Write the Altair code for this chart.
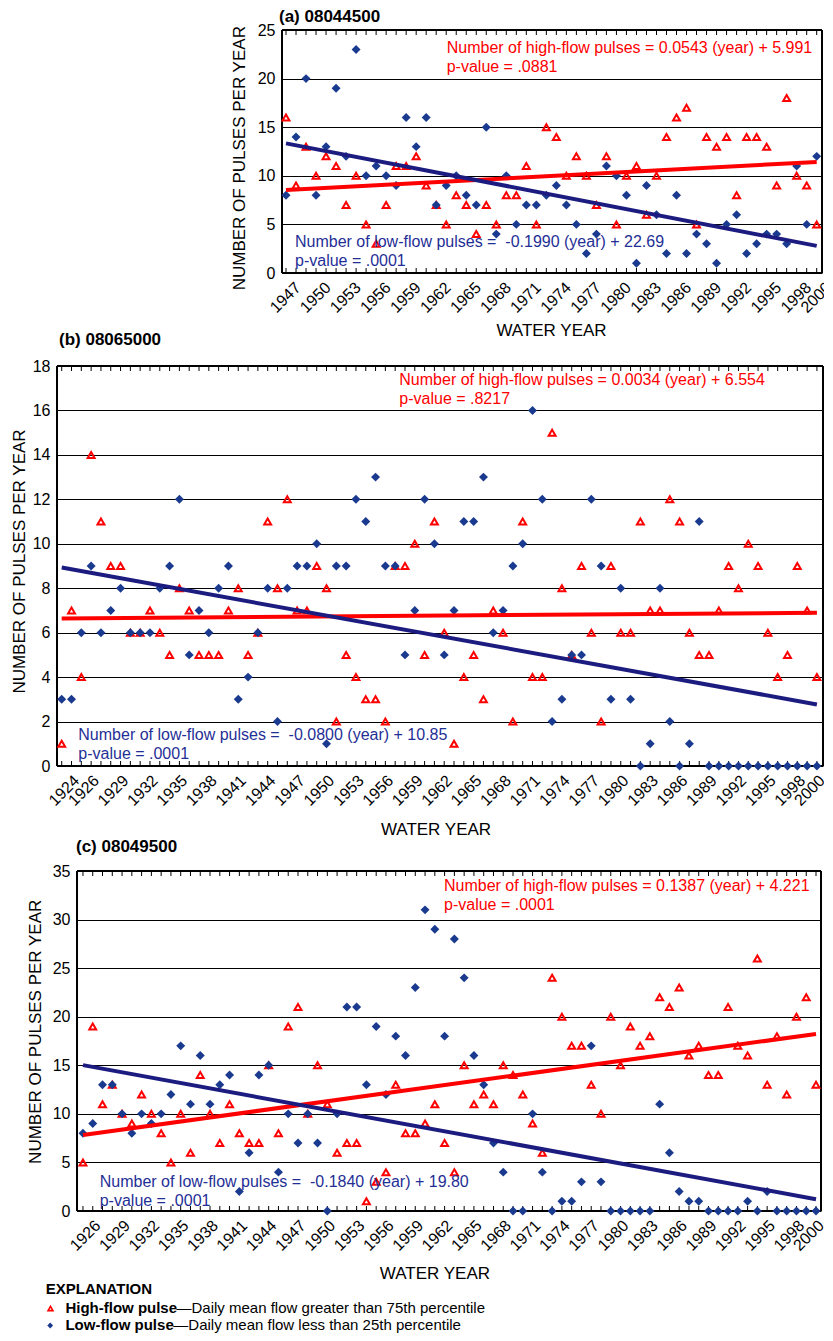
import altair as alt
import pandas as pd

FONT = "Liberation Sans"
RED = "#FF0000"
BLUE_PT = "#1A3A8F"
BLUE_LN = "#1C1C80"
BLUE_TX = "#1F2F96"
FIT_BASE_YEAR = 1900  # equations use (water year - 1900)

# ---------------- (a) 08044500, water years 1947-2000 ----------------
a_first_year = 1947
a_high = [16, 9, 13, 10, 12, 11, 7, 10, 5, 3,
          7, 11, 11, 12, 9, 7, 5, 8, 7, 4,
          7, 5, 8, 8, 11, 5, 15, 14, 10, 12,
          10, 7, 12, 5, 10, 11, 6, 10, 14, 16,
          17, 5, 14, 13, 14, 8, 14, 14, 13, 9,
          18, 10, 9, 5]
a_low = [8, 14, 20, 8, 13, 19, 12, 23, 10, 11,
         10, 9, 16, 13, 16, 7, 9, 10, 8, 7,
         15, 4, 10, 5, 7, 7, 8, 9, 7, 5,
         2, 4, 11, 10, 8, 1, 9, 6, 2, 8,
         2, 4, 3, 1, 5, 6, 2, 3, 4, 4,
         3, 11, 5, 12]
a_high_fit = [0.0543, 5.991]
a_low_fit = [-0.1990, 22.69]
a_year_labels = [1947, 1950, 1953, 1956, 1959, 1962, 1965, 1968, 1971, 1974,
                 1977, 1980, 1983, 1986, 1989, 1992, 1995, 1998, 2000]
a_value_ticks = [0, 5, 10, 15, 20, 25]
a_texts = ["Number of high-flow pulses = 0.0543 (year) + 5.991", "p-value = .0881",
           "Number of low-flow pulses =\u00a0 -0.1990 (year) + 22.69", "p-value = .0001"]

# ---------------- (b) 08065000, water years 1924-2001 ----------------
b_first_year = 1924
b_high = [1, 7, 4, 14, 11, 9, 9, 6, 6, 7,
          6, 5, 8, 7, 5, 5, 5, 7, 8, 5,
          6, 11, 8, 12, 7, 7, 9, 8, 2, 5,
          4, 3, 3, 2, 9, 9, 10, 5, 11, 6,
          1, 4, 5, 3, 7, 6, 2, 11, 4, 4,
          15, 8, 5, 9, 6, 2, 9, 6, 6, 11,
          7, 7, 12, 11, 6, 5, 5, 7, 9, 8,
          10, 9, 6, 4, 5, 9, 7, 4]
b_low = [3, 3, 6, 9, 6, 7, 8, 6, 6, 6,
         8, 9, 12, 5, 7, 6, 8, 9, 3, 4,
         6, 8, 2, 8, 9, 9, 10, 1, 9, 9,
         12, 11, 13, 9, 9, 5, 7, 12, 10, 5,
         7, 11, 11, 13, 6, 7, 9, 10, 16, 12,
         2, 3, 5, 5, 12, 9, 3, 8, 3, 0,
         1, 8, 2, 0, 1, 11, 0, 0, 0, 0,
         0, 0, 0, 0, 0, 0, 0, 0]
b_high_fit = [0.0034, 6.554]
b_low_fit = [-0.0800, 10.85]
b_year_labels = [1924, 1926, 1929, 1932, 1935, 1938, 1941, 1944, 1947, 1950,
                 1953, 1956, 1959, 1962, 1965, 1968, 1971, 1974, 1977, 1980,
                 1983, 1986, 1989, 1992, 1995, 1998, 2000]
b_value_ticks = [0, 2, 4, 6, 8, 10, 12, 14, 16, 18]
b_texts = ["Number of high-flow pulses = 0.0034 (year) + 6.554", "p-value = .8217",
           "Number of low-flow pulses =\u00a0 -0.0800 (year) + 10.85", "p-value = .0001"]

# ---------------- (c) 08049500, water years 1926-2001 ----------------
c_first_year = 1926
c_high = [5, 19, 11, 13, 10, 9, 12, 10, 8, 5,
          10, 6, 14, 10, 7, 11, 8, 7, 7, 15,
          8, 19, 21, 10, 15, 11, 6, 7, 7, 1,
          3, 4, 13, 8, 8, 9, 11, 7, 4, 15,
          11, 12, 11, 15, 14, 12, 9, 6, 24, 20,
          17, 17, 13, 10, 20, 15, 19, 17, 18, 22,
          21, 23, 16, 17, 14, 14, 21, 17, 16, 26,
          13, 18, 12, 20, 22, 13]
c_low = [8, 9, 13, 13, 10, 8, 10, 9, 10, 12,
         17, 11, 16, 11, 13, 14, 2, 6, 14, 15,
         4, 10, 7, 10, 7, 0, 10, 21, 21, 13,
         19, 12, 18, 16, 23, 31, 29, 18, 28, 24,
         16, 13, 7, 4, 0, 0, 10, 4, 0, 1,
         1, 3, 17, 3, 0, 0, 0, 0, 0, 11,
         6, 2, 1, 1, 0, 0, 0, 0, 1, 0,
         2, 0, 0, 0, 0, 0]
c_high_fit = [0.1387, 4.221]
c_low_fit = [-0.1840, 19.80]
c_year_labels = [1926, 1929, 1932, 1935, 1938, 1941, 1944, 1947, 1950, 1953,
                 1956, 1959, 1962, 1965, 1968, 1971, 1974, 1977, 1980, 1983,
                 1986, 1989, 1992, 1995, 1998, 2000]
c_value_ticks = [0, 5, 10, 15, 20, 25, 30, 35]
c_texts = ["Number of high-flow pulses = 0.1387 (year) + 4.221", "p-value = .0001",
           "Number of low-flow pulses =\u00a0 -0.1840 (year) + 19.80", "p-value = .0001"]

legend_title = "EXPLANATION"
legend_names = ["High-flow pulse", "Low-flow pulse"]
legend_desc = ["\u2014Daily mean flow greater than 75th percentile",
               "\u2014Daily mean flow less than 25th percentile"]

one = pd.DataFrame({"k": [0]})


def text_layer(s, x, y, color, size=16, weight="normal"):
    return alt.Chart(one).mark_text(
        align="left", baseline="alphabetic", fontSize=size, fontWeight=weight,
        color=color, font=FONT
    ).encode(x=alt.value(x), y=alt.value(y), text=alt.value(s))


def rule_layer(x, x2, y, y2, width=2):
    return alt.Chart(one).mark_rule(color="black", strokeWidth=width).encode(
        x=alt.value(x), x2=alt.value(x2), y=alt.value(y), y2=alt.value(y2))


def panel(title, title_dx, title_y, first_year, high, low, hi_fit, lo_fit,
          xdom, year_labels, ymax, value_ticks, w, h,
          ytitle_x, ytitle_y, xtitle_x, xtitle_y, texts, hi_xy, lo_xy,
          label_offset=9, extra=()):
    years = list(range(first_year, first_year + len(high)))
    pts = pd.DataFrame({
        "year": years + years,
        "value": high + low,
        "kind": ["high"] * len(high) + ["low"] * len(low),
    })
    ends = [years[0], years[-1]]
    fits = pd.DataFrame({
        "year": ends + ends,
        "value": [hi_fit[0] * (yy - FIT_BASE_YEAR) + hi_fit[1] for yy in ends]
        + [lo_fit[0] * (yy - FIT_BASE_YEAR) + lo_fit[1] for yy in ends],
        "kind": ["high", "high", "low", "low"],
    })
    yrs = pd.DataFrame({"year": years})

    x = alt.X("year:Q",
              scale=alt.Scale(domain=xdom, nice=False, zero=False),
              axis=alt.Axis(values=year_labels, format="d", labelAngle=315,
                            labelAlign="right", labelBaseline="top",
                            labelFontSize=16, labelPadding=6, labelOffset=label_offset,
                            labelOverlap=False, labelFlush=False,
                            ticks=False, domain=False, grid=False,
                            title="WATER YEAR", titleFontSize=17,
                            titleFontWeight="normal", titleX=xtitle_x,
                            titleY=xtitle_y, titleAlign="center",
                            titleBaseline="alphabetic"))
    y = alt.Y("value:Q",
              scale=alt.Scale(domain=[0, ymax], nice=False, zero=True),
              axis=alt.Axis(values=value_ticks, labelFontSize=16, labelPadding=7,
                            ticks=False, domain=False, grid=True,
                            gridColor="black", gridWidth=1, gridOpacity=1,
                            title="NUMBER OF PULSES PER YEAR", titleFontSize=17,
                            titleFontWeight="normal", titleAngle=270,
                            titleX=ytitle_x, titleY=ytitle_y, titleAlign="center",
                            titleBaseline="alphabetic"))

    frame = [rule_layer(0, w, 0, 0), rule_layer(0, w, h, h),
             rule_layer(0, 0, 0, h), rule_layer(w, w, 0, h)]
    ticks_top = alt.Chart(yrs).mark_rule(color="black", strokeWidth=1).encode(
        x=x, y=alt.value(0), y2=alt.value(5))
    ticks_bot = alt.Chart(yrs).mark_rule(color="black", strokeWidth=1).encode(
        x=x, y=alt.value(h), y2=alt.value(h - 5))
    tri = alt.Chart(pts).transform_filter("datum.kind == 'high'").mark_point(
        shape="triangle-up", filled=False, color=RED, strokeWidth=2, size=48,
        opacity=1).encode(x=x, y=y)
    dia = alt.Chart(pts).transform_filter("datum.kind == 'low'").mark_point(
        shape="diamond", filled=True, color=BLUE_PT, size=80, opacity=1).encode(x=x, y=y)
    fit_hi = alt.Chart(fits).transform_filter("datum.kind == 'high'").mark_line(
        color=RED, strokeWidth=4).encode(x=x, y=y)
    fit_lo = alt.Chart(fits).transform_filter("datum.kind == 'low'").mark_line(
        color=BLUE_LN, strokeWidth=4).encode(x=x, y=y)

    layers = [ticks_top, ticks_bot] + frame + [tri, dia, fit_hi, fit_lo,
              text_layer(title, title_dx, title_y, "black", 17, "bold"),
              text_layer(texts[0], hi_xy[0], hi_xy[1], RED),
              text_layer(texts[1], hi_xy[0], hi_xy[1] + 18.3, RED),
              text_layer(texts[2], lo_xy[0], lo_xy[1], BLUE_TX),
              text_layer(texts[3], lo_xy[0], lo_xy[1] + 18.7, BLUE_TX)]
    layers += list(extra)
    return alt.layer(*layers).properties(width=w, height=h)


def spacer(w, h):
    return alt.Chart(one).mark_point(opacity=0, size=1).encode(
        x=alt.value(w / 2), y=alt.value(h / 2)
    ).properties(width=w, height=h)


pa = panel("(a) 08044500", -3, -8.5, a_first_year, a_high, a_low, a_high_fit, a_low_fit,
           [1946.6, 2000.53], a_year_labels, 25, a_value_ticks, 540, 243,
           -38, 127.7, 269, 62, a_texts, (164.7, 23.4), (13, 217.4), label_offset=6)

pb = panel("(b) 08065000", 2, -20.7, b_first_year, b_high, b_low, b_high_fit, b_low_fit,
           [1923.52, 2001.62], b_year_labels, 18, b_value_ticks, 766, 400,
           -33, 195, 378.5, 68, b_texts, (342.3, 19.3), (21.3, 374.0))

legend_layers = [
    text_layer(legend_title, -31.3, 422.5, "black", 15, "bold"),
    alt.Chart(one).mark_point(shape="triangle-up", filled=False, color=RED,
                              strokeWidth=1.6, size=24, opacity=1).encode(
        x=alt.value(-26.5), y=alt.value(437.5)),
    text_layer(legend_names[0], -11.6, 442.3, "black", 15, "bold"),
    text_layer(legend_desc[0], 99.5, 442.3, "black", 15),
    alt.Chart(one).mark_point(shape="diamond", filled=True, color=BLUE_PT,
                              size=34, opacity=1).encode(
        x=alt.value(-26.8), y=alt.value(454.5)),
    text_layer(legend_names[1], -11.6, 458.5, "black", 15, "bold"),
    text_layer(legend_desc[1], 96.3, 458.5, "black", 15),
]

pc = panel("(c) 08049500", -1, -19, c_first_year, c_high, c_low, c_high_fit, c_low_fit,
           [1925.39, 2001.51], c_year_labels, 35, c_value_ticks, 744, 340,
           -37, 160.3, 357.4, 67, c_texts, (367, 20.3), (22.7, 316),
           extra=legend_layers)

chart = alt.vconcat(
    alt.hconcat(spacer(221, 1), pa, spacing=0),
    alt.hconcat(spacer(1, 479), pb, spacing=0),
    alt.hconcat(spacer(17, 1), pc, spacing=0),
    spacing=-7,
).properties(
    padding={"left": 0, "top": -1, "right": -11, "bottom": 0}
).configure(font=FONT).configure_view(
    strokeWidth=0, stroke="transparent"
).configure_axis(
    labelFont=FONT, titleFont=FONT, labelColor="black", titleColor="black"
)

chart.save("out.html", embed_options={"renderer": "svg", "actions": False})
